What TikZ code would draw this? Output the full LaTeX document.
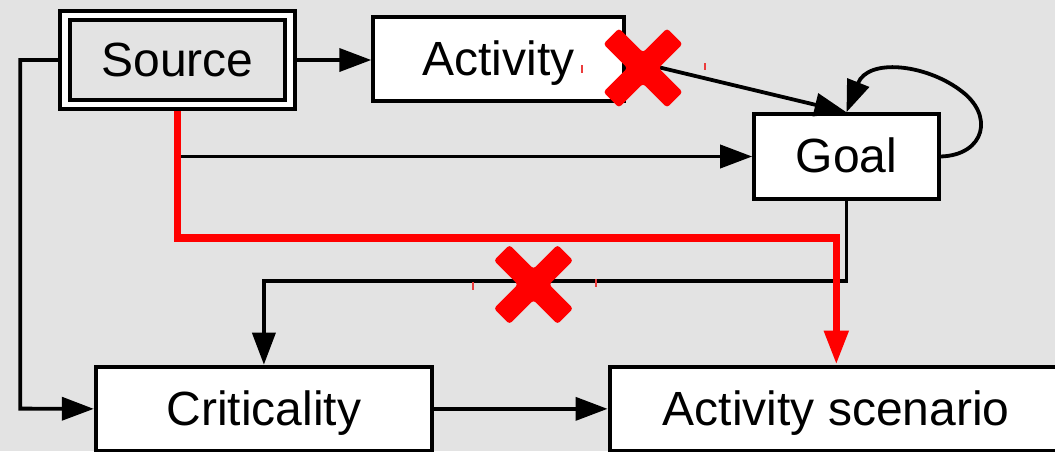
\documentclass[tikz,border=0pt]{standalone}
\usepackage{fontspec}
\setmainfont{Liberation Sans}
\usetikzlibrary{arrows.meta}
\definecolor{marble}{RGB}{227,227,227}
\definecolor{alarm}{RGB}{255,0,0}
\definecolor{handlered}{RGB}{235,60,60}
\begin{document}
\begin{tikzpicture}[x=1pt,y=-1pt,
  label font/.style={font=\fontsize{48pt}{56pt}\selectfont, text height=34.4pt, text depth=2pt},
  box/.style={draw=black, line width=4pt, fill=white, inner sep=0pt, label font},
  tip/.style={-{Triangle[length=32pt,width=23pt]}},
  link/.style={draw=black, line width=3.8pt, tip},
  redlink/.style={draw=alarm, line width=7.5pt, -{Triangle[length=34pt,width=23pt]}},
  handle/.style={draw=handlered, line width=1.2pt},
  redcross/.pic={
    \fill[alarm, rounded corners=3pt, rotate=45]
      (11,11) -- (45,11) -- (45,-11) -- (11,-11) -- (11,-45) -- (-11,-45)
      -- (-11,-11) -- (-45,-11) -- (-45,11) -- (-11,11) -- (-11,45) -- (11,45) -- cycle;
  }
]
% canvas
\fill[marble] (0,0) rectangle (1055,451);
\useasboundingbox (0,0) rectangle (1055,451);

% boxes
\node[draw=black, line width=4pt, double=white, double distance=5.45pt,
      fill=marble, minimum width=225pt, minimum height=88.6pt,
      inner sep=0pt, outer sep=6.7pt, label font] (src) at (177.4,60) {Source};
\node[box, minimum width=250.4pt, minimum height=83.7pt] (act) at (498.5,59.3) {Activity};
\node[box, minimum width=184.6pt, minimum height=84.5pt] (goal) at (846.5,156.5) {Goal};
\node[box, minimum width=336.2pt, minimum height=84.3pt] (crit) at (263.9,408.85) {Criticality};
\node[box, minimum width=453.5pt, minimum height=84.3pt] (scen) at (836.3,408.85) {Activity scenario};

% bend points
\coordinate (split) at (src.south |- goal.west);
\coordinate (redbend) at (scen.north |- 0,238);
\coordinate (goalbend) at (goal.south |- 0,281);
\coordinate (leftbend) at (20.3,408.6);

% black connectors
\draw[link] (src.east) -- (act.west |- src.east);
\draw[link] (act.east) -- (goal.north);
\draw[link] (goal.east) .. controls (985,155) and (995,115) .. (960,90)
                        .. controls (925,64) and (868,58) .. (goal.north);
\draw[link] (split) -- (goal.west);
\draw[link] (goal.south) -- (goalbend) -| (crit.north);
\draw[link] (src.west) -| (leftbend) -- (crit.west);
\draw[link] (crit.east) -- (scen.west);

% red connector
\draw[redlink] (src.south) |- (redbend) -- (scen.north);

% crossed-out links
\pic at (643,68) {redcross};
\pic at (533.5,284.5) {redcross};
\draw[handle] (582,65) -- (582,73);
\draw[handle] (705,63) -- (705,70);
\draw[handle] (473,282) -- (473,290);
\draw[handle] (596,279) -- (596,287);
\end{tikzpicture}
\end{document}
